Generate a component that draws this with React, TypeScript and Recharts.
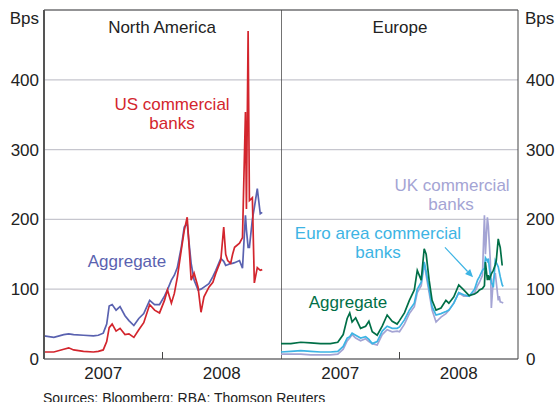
import React from 'react'
import { LineChart, Line, XAxis, YAxis, CartesianGrid, ReferenceLine } from 'recharts'

// months since Jan 2007
const naMonths = [0, 1, 2, 2.5, 3, 4, 5, 5.5, 6, 6.35, 6.6, 6.9, 7.3, 7.7, 8.2, 8.6, 9.1, 9.6, 10.1, 10.7, 11.2, 11.7, 12.2, 12.5, 12.9, 13.2, 13.5, 13.9, 14.2, 14.5, 14.7, 14.9, 15.2, 15.6, 15.9, 16.2, 16.7, 17.1, 17.4, 17.9, 18.2, 18.4, 18.6, 18.9, 19.1, 19.3, 19.8, 20.1, 20.4, 20.5, 20.67, 20.8, 21.1, 21.3, 21.6, 21.9, 22.1]
const naAggregate = [33, 31, 35, 36, 35, 34, 33, 34, 37, 50, 76, 78, 70, 75, 62, 55, 48, 58, 65, 84, 78, 78, 90, 99, 113, 120, 131, 160, 189, 194, 165, 137, 113, 99, 100, 103, 108, 118, 127, 144, 140, 134, 135, 137, 137, 138, 141, 130, 206, 185, 160, 160, 200, 217, 244, 208, 210]
const usBanks = [10, 10, 14, 16, 13, 11, 10, 11, 13, 25, 45, 50, 40, 44, 35, 36, 31, 42, 52, 78, 70, 66, 84, 99, 80, 94, 117, 156, 184, 203, 160, 113, 123, 103, 67, 89, 103, 110, 123, 141, 189, 150, 141, 137, 150, 160, 166, 174, 354, 215, 470, 227, 231, 109, 131, 127, 128]

const euMonths = [0, 1, 2, 3, 4, 5, 5.75, 6.3, 6.7, 6.96, 7.2, 7.56, 8.06, 8.57, 8.9, 9.24, 9.74, 10.25, 10.75, 11.26, 11.76, 12, 12.5, 13, 13.5, 13.8, 14.2, 14.5, 14.7, 15, 15.3, 15.7, 16.2, 16.7, 17, 17.5, 18, 18.5, 19.05, 19.6, 19.9, 20.1, 20.4, 20.6, 20.7, 20.9, 21, 21.1, 21.2, 21.3, 21.5, 21.7, 21.8, 22, 22.1, 22.2, 22.4, 22.5]
const euAggregate = [22, 22, 24, 23, 22, 22, 24, 35, 58, 66, 53, 59, 44, 47, 54, 39, 34, 47, 63, 54, 50, 55, 66, 84, 99, 127, 113, 158, 150, 113, 84, 70, 73, 84, 80, 89, 106, 99, 91, 93, 96, 99, 101, 105, 139, 113, 120, 113, 118, 122, 127, 135, 141, 172, 165, 160, 134, null]
const euroBanks = [10, 11, 12, 11, 10, 10, 11, 18, 30, 32, 37, 34, 30, 32, 28, 22, 25, 40, 47, 44, 44, 46, 56, 70, 80, 100, 110, 139, 125, 100, 75, 63, 65, 68, 70, 80, 95, 92, 90, 100, 113, 118, 127, 130, 145, 140, 144, 130, 120, 110, 103, 141, 138, 132, 125, 118, 106, 104]
const ukBanks = [7, 7, 7, 6, 6, 6, 7, 14, 26, 30, 35, 30, 26, 29, 25, 22, 20, 35, 42, 39, 40, 39, 50, 65, 75, 95, 105, 137, 120, 95, 70, 53, 60, 65, 70, 80, 95, 90, 90, 95, 105, 110, 120, 206, 150, 203, 190, 164, 140, 73, 114, 123, 110, 84, 90, 82, 81, 80]

const yTicks = [0, 100, 200, 300, 400]
const yearMid = [6, 18]
const yearLabels = ['2007', '2008']

const naData = naMonths.map((m, i) => ({ m, agg: naAggregate[i], us: usBanks[i] }))
const euData = euMonths.map((m, i) => ({ m, agg: euAggregate[i], euro: euroBanks[i], uk: ukBanks[i] }))

const FONT = 'Arial, "Liberation Sans", sans-serif'
const RED = '#d3252d'
const SLATE = '#5a62b0'
const GREEN = '#006f47'
const SKY = '#3db4e4'
const LAV = '#a4a4d4'
const GRID = '#c6c6ce'
const FRAME = '#444'

const tickStyle = { fontSize: 17, fill: '#222', fontFamily: FONT }
const yearFmt = (v: number) => yearLabels[yearMid.indexOf(v)] ?? ''

const ArrowShape = (p: any) => {
  const { x1, y1, x2, y2 } = p
  const ang = Math.atan2(y2 - y1, x2 - x1)
  const L = 8
  const W = 3.5
  const bx = x2 - L * Math.cos(ang)
  const by = y2 - L * Math.sin(ang)
  const pts = `${x2},${y2} ${bx + W * Math.sin(ang)},${by - W * Math.cos(ang)} ${bx - W * Math.sin(ang)},${by + W * Math.cos(ang)}`
  return (
    <g>
      <line x1={x1} y1={y1} x2={bx} y2={by} stroke={SKY} strokeWidth={1.2} />
      <polygon points={pts} fill={SKY} />
    </g>
  )
}

export default function App() {
  return (
    <div style={{ position: 'absolute', left: 0, top: 0, width: 556, height: 402, background: '#fff', fontFamily: FONT }}>
      <div style={{ position: 'absolute', left: 0, top: 0 }}>
        <LineChart width={281} height={402} data={naData} margin={{ top: 10, right: 0, left: 0, bottom: 0 }}>
          <CartesianGrid vertical={false} stroke={GRID} strokeWidth={1.2} />
          <XAxis type="number" dataKey="m" domain={[0, 24]} ticks={yearMid} tickFormatter={yearFmt} height={43}
            tickSize={0} tickMargin={8} axisLine={{ stroke: FRAME }} tickLine={false} tick={tickStyle} />
          <YAxis domain={[0, 500]} ticks={yTicks} width={44} tickSize={0} tickMargin={5} tickLine={false}
            axisLine={{ stroke: '#555', strokeWidth: 2 }} tick={tickStyle} />
          <ReferenceLine y={500} stroke={FRAME} />
          <ReferenceLine segment={[{ x: 12, y: 0 }, { x: 12, y: 10 }]} stroke={FRAME} />
          <Line dataKey="agg" stroke={SLATE} strokeWidth={1.7} dot={false} isAnimationActive={false} />
          <Line dataKey="us" stroke={RED} strokeWidth={1.7} dot={false} isAnimationActive={false} />
        </LineChart>
      </div>
      <div style={{ position: 'absolute', left: 281, top: 0 }}>
        <LineChart width={275} height={402} data={euData} margin={{ top: 10, right: 0, left: 0, bottom: 0 }}>
          <CartesianGrid vertical={false} stroke={GRID} strokeWidth={1.2} />
          <XAxis type="number" dataKey="m" domain={[0, 24]} ticks={yearMid} tickFormatter={yearFmt} height={43}
            tickSize={0} tickMargin={8} axisLine={{ stroke: FRAME }} tickLine={false} tick={tickStyle} />
          <YAxis orientation="right" domain={[0, 500]} ticks={yTicks} width={38} tickSize={0} tickMargin={8}
            tickLine={false} axisLine={{ stroke: FRAME }} tick={{ ...tickStyle, textAnchor: 'start' }} />
          <ReferenceLine y={500} stroke={FRAME} />
          <ReferenceLine x={0} stroke={FRAME} strokeWidth={1.5} />
          <ReferenceLine segment={[{ x: 12, y: 0 }, { x: 12, y: 10 }]} stroke={FRAME} />
          <ReferenceLine segment={[{ x: 16.6, y: 160 }, { x: 19.45, y: 117 }]} shape={ArrowShape} />
          <Line dataKey="uk" stroke={LAV} strokeWidth={1.7} dot={false} isAnimationActive={false} />
          <Line dataKey="euro" stroke={SKY} strokeWidth={1.7} dot={false} isAnimationActive={false} />
          <Line dataKey="agg" stroke={GREEN} strokeWidth={1.7} dot={false} isAnimationActive={false} />
        </LineChart>
      </div>
      <svg width={556} height={402} style={{ position: 'absolute', left: 0, top: 0, pointerEvents: 'none' }} fontFamily={FONT} fontSize={17}>
        <text x={39} y={24} textAnchor="end" fill="#222">Bps</text>
        <text x={525} y={24} textAnchor="start" fill="#222">Bps</text>
        <text x={162} y={33} textAnchor="middle" fill="#222">North America</text>
        <text x={400} y={33} textAnchor="middle" fill="#222">Europe</text>
        <text x={172} y={110} textAnchor="middle" fill={RED}>US commercial</text>
        <text x={172} y={129} textAnchor="middle" fill={RED}>banks</text>
        <text x={127} y={267} textAnchor="middle" fill={SLATE}>Aggregate</text>
        <text x={452} y={191} textAnchor="middle" fill={LAV}>UK commercial</text>
        <text x={451} y={210} textAnchor="middle" fill={LAV}>banks</text>
        <text x={378} y={239} textAnchor="middle" fill={SKY}>Euro area commercial</text>
        <text x={378} y={258} textAnchor="middle" fill={SKY}>banks</text>
        <text x={348} y={308} textAnchor="middle" fill={GREEN}>Aggregate</text>
        <text x={43} y={403} fontSize={14} fill="#222">Sources: Bloomberg; RBA; Thomson Reuters</text>
      </svg>
    </div>
  )
}
